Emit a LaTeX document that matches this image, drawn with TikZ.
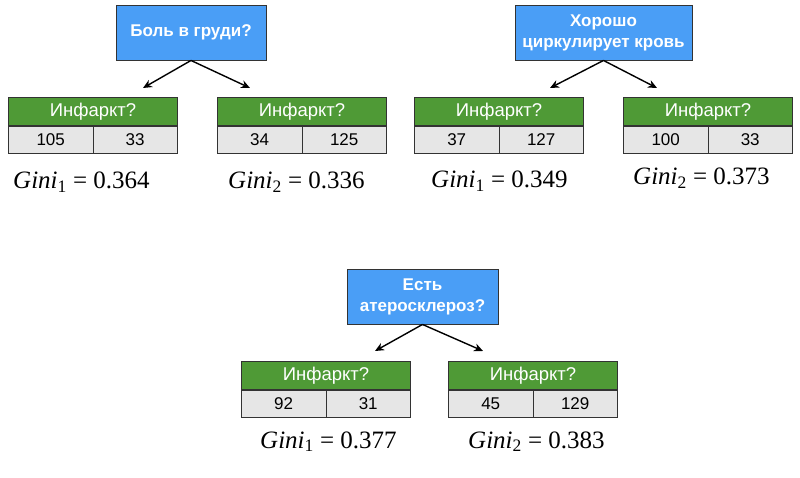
\documentclass[tikz,border=0pt]{standalone}
\usepackage{fontspec}
\usepackage{tikz}
\usetikzlibrary{arrows.meta,positioning}
\newfontfamily\boxfont{Liberation Sans}
\newfontfamily\ginifont{Liberation Serif}
\definecolor{qblue}{HTML}{4A9EF6}
\definecolor{hgreen}{HTML}{4F9A36}
\definecolor{cgray}{HTML}{E6E6E6}
\definecolor{edge}{HTML}{333333}

\tikzset{
	question/.style={draw=edge,line width=0.9pt,fill=qblue,text=white,align=center,inner sep=1pt,
		font=\boxfont\bfseries\fontsize{17}{21}\selectfont,minimum height=55pt},
	header/.style={draw=edge,line width=0.9pt,fill=hgreen,text=white,anchor=north west,inner sep=0pt,
		font=\boxfont\fontsize{18.5}{20}\selectfont,minimum width=169pt,minimum height=28pt},
	cell/.style={draw=edge,line width=0.9pt,fill=cgray,inner sep=0pt,
		font=\boxfont\fontsize{17}{18}\selectfont,minimum width=84.5pt,minimum height=27pt},
	gini/.style={anchor=base west,inner sep=0pt,font=\ginifont\fontsize{25}{28}\selectfont},
	split/.style={-{Stealth[length=9pt,width=8pt]},line width=1.4pt,black}
}

\begin{document}
\begin{tikzpicture}[x=1pt,y=-1pt]
	\useasboundingbox[fill=white] (0,0) rectangle (800,478);

	% first split
	\node[question,minimum width=150pt] (q1) at (191,32.5) {Боль в груди?};
	\node[header] (h11) at (8,97) {Инфаркт?};
	\node[cell,anchor=north west] (a11) at (h11.south west) {105};
	\node[cell,anchor=north east] (b11) at (h11.south east) {33};
	\node[header] (h12) at (217,97) {Инфаркт?};
	\node[cell,anchor=north west] (a12) at (h12.south west) {34};
	\node[cell,anchor=north east] (b12) at (h12.south east) {125};
	\coordinate (e11) at (143,88);
	\coordinate (e12) at (250,88);
	\draw[split] (q1.south) -- (e11);
	\draw[split] (q1.south) -- (e12);
	\node[gini] (g11) at (13,189) {\textit{Gini}\textsubscript{1} = 0.364};
	\node[gini] (g12) at (228,189) {\textit{Gini}\textsubscript{2} = 0.336};

	% second split
	\node[question,minimum width=177pt] (q2) at (603.5,32.5) {Хорошо\\циркулирует кровь};
	\node[header] (h21) at (414,97) {Инфаркт?};
	\node[cell,anchor=north west] (a21) at (h21.south west) {37};
	\node[cell,anchor=north east] (b21) at (h21.south east) {127};
	\node[header] (h22) at (623,97) {Инфаркт?};
	\node[cell,anchor=north west] (a22) at (h22.south west) {100};
	\node[cell,anchor=north east] (b22) at (h22.south east) {33};
	\coordinate (e21) at (550,88);
	\coordinate (e22) at (657,88);
	\draw[split] (q2.south) -- (e21);
	\draw[split] (q2.south) -- (e22);
	\node[gini] (g21) at (431,188) {\textit{Gini}\textsubscript{1} = 0.349};
	\node[gini] (g22) at (633,185) {\textit{Gini}\textsubscript{2} = 0.373};

	% third split
	\node[question,minimum width=151pt] (q3) at (422.5,296.5) {Есть\\атеросклероз?};
	\node[header] (h31) at (241,361) {Инфаркт?};
	\node[cell,anchor=north west] (a31) at (h31.south west) {92};
	\node[cell,anchor=north east] (b31) at (h31.south east) {31};
	\node[header] (h32) at (448,361) {Инфаркт?};
	\node[cell,anchor=north west] (a32) at (h32.south west) {45};
	\node[cell,anchor=north east] (b32) at (h32.south east) {129};
	\coordinate (e31) at (375,351);
	\coordinate (e32) at (483,351);
	\draw[split] (q3.south) -- (e31);
	\draw[split] (q3.south) -- (e32);
	\node[gini] (g31) at (260,448) {\textit{Gini}\textsubscript{1} = 0.377};
	\node[gini] (g32) at (468,448) {\textit{Gini}\textsubscript{2} = 0.383};
\end{tikzpicture}
\end{document}
